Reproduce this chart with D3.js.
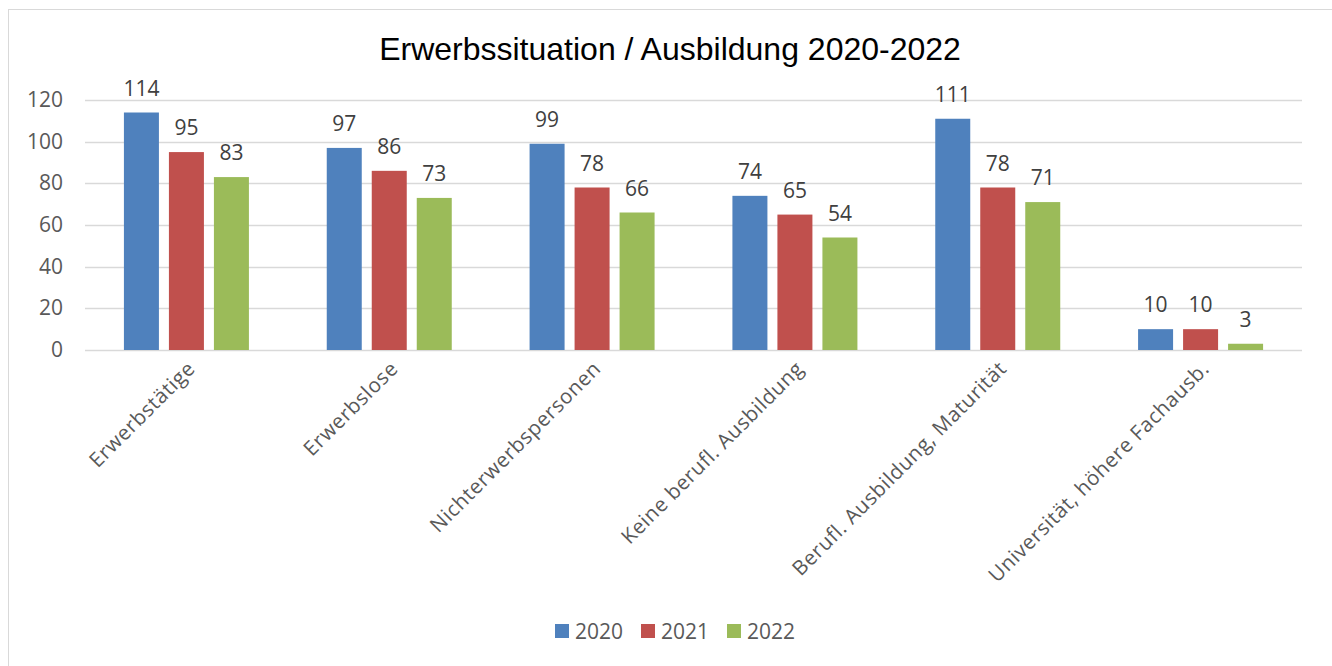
<!DOCTYPE html>
<html>
<head>
<meta charset="utf-8">
<script src="https://cdn.jsdelivr.net/npm/d3@7"></script>
<style>
  body { margin: 0; background: #fff; }
  svg { display: block; }
</style>
</head>
<body>
<div id="chart"></div>
<script>
const categories = [
  "Erwerbstätige",
  "Erwerbslose",
  "Nichterwerbspersonen",
  "Keine berufl. Ausbildung",
  "Berufl. Ausbildung, Maturität",
  "Universität, höhere Fachausb."
]
const years = ["2020", "2021", "2022"]
const values2020 = [114, 97, 99, 74, 111, 10]
const values2021 = [95, 86, 78, 65, 78, 10]
const values2022 = [83, 73, 66, 54, 71, 3]
const yTicks = [0, 20, 40, 60, 80, 100, 120]
const colors = ["#4f81bd", "#c0504d", "#9bbb59"]

const series = [values2020, values2021, values2022]

const W = 1332, H = 666
const margin = { left: 85, right: 30, top: 100, bottom: 316 }
const font = "'Open Sans', 'Noto Sans', sans-serif"

const svg = d3.select("#chart").append("svg")
    .attr("width", W)
    .attr("height", H)

svg.append("rect")
    .attr("x", 8.5).attr("y", 9.5)
    .attr("width", W - 2).attr("height", H)
    .attr("fill", "#fff")
    .attr("stroke", "#d9d9d9")

svg.append("text")
    .attr("x", 670).attr("y", 60)
    .attr("text-anchor", "middle")
    .attr("font-family", "'Liberation Sans', Arial, sans-serif")
    .attr("font-size", 32)
    .attr("fill", "#000")
    .text("Erwerbssituation / Ausbildung 2020-2022")

const x = d3.scaleBand()
    .domain(categories)
    .range([margin.left, W - margin.right])

const y = d3.scaleLinear()
    .domain([0, 120])
    .range([H - margin.bottom, margin.top])

// gridlines
svg.append("g")
    .selectAll("line")
    .data(yTicks)
    .enter().append("line")
    .attr("x1", margin.left).attr("x2", W - margin.right)
    .attr("y1", d => Math.round(y(d)) + 0.5)
    .attr("y2", d => Math.round(y(d)) + 0.5)
    .attr("stroke", "#d9d9d9")
    .attr("stroke-width", 1.5)

// y labels
svg.append("g")
    .selectAll("text")
    .data(yTicks)
    .enter().append("text")
    .attr("x", 63)
    .attr("y", d => y(d) + 7)
    .attr("text-anchor", "end")
    .attr("font-family", font)
    .attr("font-size", 21)
    .attr("fill", "#595959")
    .text(d => d)

const barW = 35, barGap = 10
const xs = d3.scaleBand()
    .domain(d3.range(years.length))
    .range([0, barW * 3 + barGap * 2])
    .paddingInner(barGap / (barW + barGap))

const groupOffset = (x.bandwidth() - (barW * 3 + barGap * 2)) / 2

const groups = svg.append("g")
    .selectAll("g")
    .data(categories)
    .enter().append("g")
    .attr("transform", d => `translate(${x(d) + groupOffset},0)`)

groups.each(function(cat, ci) {
    const g = d3.select(this)
    series.forEach((vals, si) => {
        const v = vals[ci]
        g.append("rect")
            .attr("x", xs(si))
            .attr("y", y(v))
            .attr("width", xs.bandwidth())
            .attr("height", y(0) - y(v))
            .attr("fill", colors[si])
        g.append("text")
            .attr("x", xs(si) + xs.bandwidth() / 2)
            .attr("y", y(v) - 17)
            .attr("text-anchor", "middle")
            .attr("font-family", font)
            .attr("font-size", 21)
            .attr("fill", "#404040")
            .text(v)
    })
})

// category labels rotated
svg.append("g")
    .selectAll("text")
    .data(categories)
    .enter().append("text")
    .attr("text-anchor", "end")
    .attr("font-family", font)
    .attr("font-size", 20.5)
    .attr("letter-spacing", 0.6)
    .attr("fill", "#595959")
    .attr("transform", d => `translate(${x(d) + x.bandwidth() / 2 + 10},${y(0) + 20}) rotate(-45)`)
    .text(d => d)

// legend
const legend = svg.append("g")
    .attr("transform", "translate(555,624)")
years.forEach((yr, i) => {
    const lg = legend.append("g").attr("transform", `translate(${i * 86},0)`)
    lg.append("rect")
        .attr("width", 14).attr("height", 14)
        .attr("fill", colors[i])
    lg.append("text")
        .attr("x", 20).attr("y", 15)
        .attr("font-family", font)
        .attr("font-size", 21)
        .attr("fill", "#595959")
        .text(yr)
})
</script>
</body>
</html>
